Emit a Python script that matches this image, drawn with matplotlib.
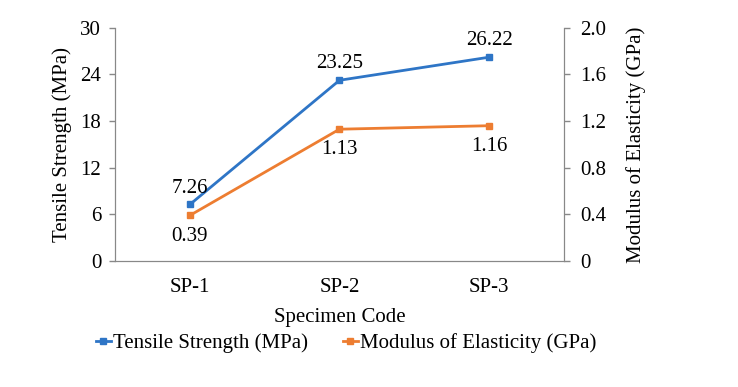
import matplotlib
matplotlib.use("Agg")
import matplotlib.pyplot as plt

plt.rcParams['font.family'] = ['Liberation Serif', 'DejaVu Serif']

# DATOS
specimens = ["SP-1", "SP-2", "SP-3"]
tensile = [7.26, 23.25, 26.22]
modulus = [0.39, 1.13, 1.16]

BLUE = "#2E75C6"
ORANGE = "#ED7D31"
GRAY = "#888888"
FS = 15

fig = plt.figure(figsize=(7.38, 3.87), dpi=100)
ax = fig.add_axes([0.156, 0.326, 0.608, 0.602])
ax2 = ax.twinx()

x = list(range(len(specimens)))
l1, = ax.plot(x, tensile, color=BLUE, lw=2, marker="s", ms=4,
              label="Tensile Strength (MPa)")
l2, = ax2.plot(x, modulus, color=ORANGE, lw=2, marker="s", ms=4,
               label="Modulus of Elasticity (GPa)")

# ETIQUETAS DE VALORES
for xi, v in zip(x, tensile):
    ax.annotate(f"{v:.2f}", (xi, v), xytext=(0, 5), textcoords="offset points",
                ha="center", va="bottom", fontsize=FS)
for xi, v in zip(x, modulus):
    ax2.annotate(f"{v:.2f}", (xi, v), xytext=(0, -8), textcoords="offset points",
                 ha="center", va="top", fontsize=FS)

ax.set_xlim(-0.5, 2.5)
ax.set_ylim(0, 30)
ax.set_yticks(range(0, 31, 6))
ax2.set_ylim(0, 2.0)
ax2.set_yticks([0, 0.4, 0.8, 1.2, 1.6, 2.0])
ax2.set_yticklabels(["0", "0.4", "0.8", "1.2", "1.6", "2.0"])
ax.set_xticks(x)
ax.set_xticklabels(specimens)

for a in (ax, ax2):
    a.spines["top"].set_visible(False)
    for s in ("left", "right", "bottom"):
        a.spines[s].set_color(GRAY)
    a.tick_params(axis="y", colors=GRAY, labelcolor="black", labelsize=FS,
                  length=4, width=1, pad=6)
ax2.tick_params(axis="y", pad=8)
ax.tick_params(axis="x", length=0, labelsize=FS, pad=12.5)

ax.set_xlabel("Specimen Code", fontsize=FS, labelpad=8)
ax.set_ylabel("Tensile Strength (MPa)", fontsize=FS, labelpad=6)
ax2.set_ylabel("Modulus of Elasticity (GPa)", fontsize=FS, labelpad=14)

fig.legend(handles=[l1, l2], loc="center", bbox_to_anchor=(0.469, 0.113),
           ncol=2, frameon=False, fontsize=FS, handlelength=0.7,
           handletextpad=0.1, columnspacing=1.7)

fig.savefig("out.png", dpi=100)
